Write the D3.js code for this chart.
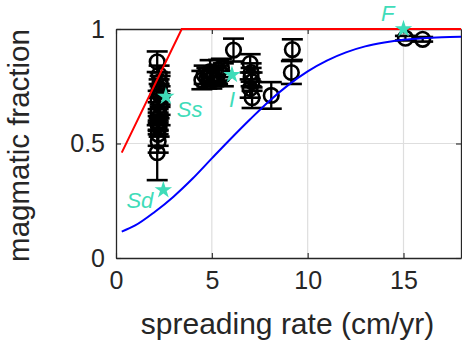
<!DOCTYPE html>
<html><head><meta charset="utf-8">
<script src="https://cdn.jsdelivr.net/npm/d3@7"></script>
<style>body{margin:0;background:#fff} svg{display:block}</style>
</head><body>
<script>
// ---- data ----
const xTicks = [0, 5, 10, 15];
const xTickLabels = ["0", "5", "10", "15"];
const yTicks = [0, 0.5, 1];
const yTickLabels = ["0", "0.5", "1"];

// observed magmatic fractions with error bars
const obsX   = [2.15, 2.25, 2.3, 2.25, 2.3, 2.2, 2.3, 2.2, 2.3, 2.2, 2.25, 2.2, 2.2, 2.15, 2.3, 2.2,
                4.48, 4.6, 4.74, 4.91, 5.0, 5.1, 5.3, 5.35, 5.5, 5.6, 6.13,
                7.0, 7.05, 7.1, 7.0, 7.1, 7.05, 8.1, 9.15, 9.2, 15.1, 16.0];
const obsY   = [0.857, 0.80, 0.77, 0.74, 0.71, 0.69, 0.665, 0.64, 0.62, 0.595, 0.57, 0.54, 0.51, 0.46, 0.755, 0.58,
                0.777, 0.80, 0.785, 0.814, 0.78, 0.79, 0.80, 0.82, 0.83, 0.80, 0.908,
                0.85, 0.81, 0.77, 0.74, 0.70, 0.79, 0.71, 0.81, 0.91, 0.96, 0.955];
const obsErr = [0.045, 0.04, 0.04, 0.04, 0.04, 0.04, 0.04, 0.04, 0.04, 0.04, 0.04, 0.05, 0.05, 0.12, 0.04, 0.04,
                0.04, 0.04, 0.045, 0.05, 0.04, 0.04, 0.04, 0.045, 0.04, 0.05, 0.05,
                0.04, 0.04, 0.04, 0.04, 0.045, 0.04, 0.058, 0.05, 0.045, 0.01, 0.01];

// model sites (stars)
const starNames = ["Ss", "Sd", "I", "F"];
const starX = [2.6, 2.47, 6.05, 15.0];
const starY = [0.705, 0.297, 0.80, 1.0];

// red model line
const redX = [0.3, 3.43, 18];
const redY = [0.46, 1.0, 1.0];

// blue model curve
const blueX = [0.3, 1, 2, 3, 4, 5, 6, 7, 8, 9, 10, 11, 12, 13, 14, 15, 16, 17, 18];
const blueY = [0.115, 0.142, 0.2, 0.268, 0.347, 0.435, 0.522, 0.606, 0.686, 0.756, 0.815, 0.862, 0.898, 0.924, 0.941, 0.953, 0.96, 0.964, 0.966];

// ---- layout ----
const W = 462, H = 342;
const L = 116, R = 461, T = 29, B = 258;
const axisCol = "#262626", starCol = "#3fdcb9";
const FONT = "Liberation Sans, Arial, Helvetica, sans-serif";

const svg = d3.select("body").append("svg").attr("width", W).attr("height", H);
const x = d3.scaleLinear().domain([0, 18]).range([L, R]);
const y = d3.scaleLinear().domain([0, 1]).range([B, T]);

// grid
const g = svg.append("g");
g.selectAll(".gx").data(xTicks.filter(d => d > 0)).enter().append("line")
  .attr("x1", d => x(d)).attr("x2", d => x(d)).attr("y1", T).attr("y2", B)
  .attr("stroke", "#dedede").attr("stroke-width", 1.2);
g.selectAll(".gy").data(yTicks.filter(d => d > 0 && d < 1)).enter().append("line")
  .attr("y1", d => y(d)).attr("y2", d => y(d)).attr("x1", L).attr("x2", R)
  .attr("stroke", "#dedede").attr("stroke-width", 1.2);

// axes
const ax = svg.append("g").attr("transform", `translate(0,${B})`)
  .call(d3.axisBottom(x).tickValues(xTicks).tickFormat((d, i) => xTickLabels[i]).tickSizeInner(-5).tickSizeOuter(0).tickPadding(13));
const ay = svg.append("g").attr("transform", `translate(${L},0)`)
  .call(d3.axisLeft(y).tickValues(yTicks).tickFormat((d, i) => yTickLabels[i]).tickSizeInner(-5).tickSizeOuter(0).tickPadding(11));
const axTop = svg.append("g").attr("transform", `translate(0,${T})`)
  .call(d3.axisTop(x).tickValues(xTicks).tickFormat("").tickSizeInner(-5).tickSizeOuter(0));
const ayR = svg.append("g").attr("transform", `translate(${R},0)`)
  .call(d3.axisRight(y).tickValues(yTicks).tickFormat("").tickSizeInner(-5).tickSizeOuter(0));
[ax, ay, axTop, ayR].forEach(a => {
  a.select(".domain").attr("stroke", axisCol).attr("stroke-width", 1.3);
  a.selectAll(".tick line").attr("stroke", axisCol).attr("stroke-width", 1.1);
  a.selectAll(".tick text").attr("fill", axisCol).style("font-family", FONT).style("font-size", "25px");
});
ax.selectAll(".tick text").attr("dy", "0.71em");

// error bars + circles
const eb = svg.append("g").attr("stroke", "#000").attr("fill", "none");
const idx = d3.range(obsX.length);
eb.selectAll(".v").data(idx).enter().append("line")
  .attr("x1", i => x(obsX[i])).attr("x2", i => x(obsX[i]))
  .attr("y1", i => y(obsY[i] - obsErr[i])).attr("y2", i => y(obsY[i] + obsErr[i]))
  .attr("stroke-width", 2.3);
[-1, 1].forEach(s => {
  eb.selectAll(".c" + s).data(idx).enter().append("line")
    .attr("x1", i => x(obsX[i]) - 10.5).attr("x2", i => x(obsX[i]) + 10.5)
    .attr("y1", i => y(obsY[i] + s * obsErr[i])).attr("y2", i => y(obsY[i] + s * obsErr[i]))
    .attr("stroke-width", 2.6);
});
eb.selectAll("circle").data(idx).enter().append("circle")
  .attr("cx", i => x(obsX[i])).attr("cy", i => y(obsY[i])).attr("r", 7.3)
  .attr("stroke-width", 2.6);

// model lines
const line = d3.line().x(d => x(d[0])).y(d => y(d[1]));
svg.append("path").datum(redX.map((v, i) => [v, redY[i]])).attr("d", line)
  .attr("fill", "none").attr("stroke", "#ff0000").attr("stroke-width", 2);
svg.append("path").datum(blueX.map((v, i) => [v, blueY[i]])).attr("d", line.curve(d3.curveMonotoneX))
  .attr("fill", "none").attr("stroke", "#0000ff").attr("stroke-width", 2);

// stars
const star = d3.symbol().type(d3.symbolStar).size(95);
svg.selectAll(".star").data(starNames).enter().append("path")
  .attr("transform", (d, i) => `translate(${x(starX[i])},${y(starY[i])})`)
  .attr("d", star).attr("fill", starCol);

// star labels (offsets relative to the star)
const lab = { Ss: [11, 20, "start"], Sd: [-10, 18, "end"], I: [0, 32, "middle"], F: [-9, -8, "end"] };
svg.selectAll(".lab").data(starNames).enter().append("text")
  .attr("x", (d, i) => x(starX[i]) + lab[d][0])
  .attr("y", (d, i) => y(starY[i]) + lab[d][1])
  .attr("text-anchor", d => lab[d][2])
  .attr("fill", starCol).style("font-family", FONT)
  .style("font-size", "22px").style("font-style", "italic").text(d => d);

// axis titles
svg.append("text").attr("x", (L + R) / 2 - 1).attr("y", 334).attr("text-anchor", "middle")
  .attr("fill", axisCol).style("font-family", FONT).style("font-size", "30px")
  .text("spreading rate (cm/yr)");
svg.append("text").attr("transform", `translate(29,${(T + B) / 2 + 2}) rotate(-90)`).attr("text-anchor", "middle")
  .attr("fill", axisCol).style("font-family", FONT).style("font-size", "29.5px")
  .text("magmatic fraction");
</script>
</body></html>
